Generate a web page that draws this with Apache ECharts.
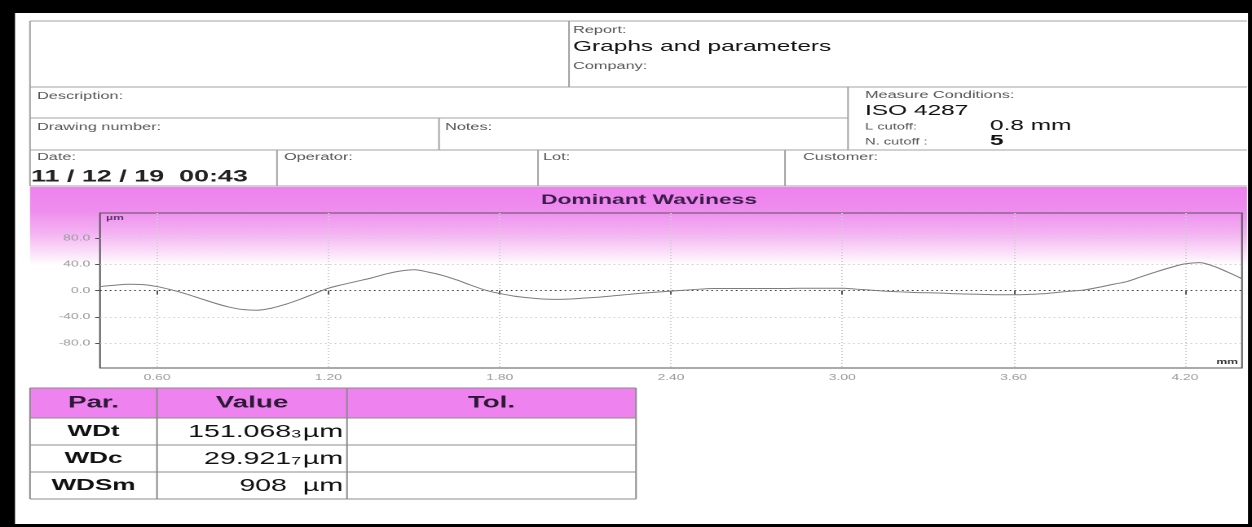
<!DOCTYPE html>
<html>
<head>
<meta charset="utf-8">
<script src="https://cdn.jsdelivr.net/npm/echarts@6/dist/echarts.min.js"></script>
<style>
html, body { margin: 0; padding: 0; background: #000; overflow: hidden; width: 1252px; height: 527px; }
/* the report sheet is laid out 768 px wide and printed stretched across 1252 px */
#report { width: 768px; height: 527px; transform: scaleX(1.630208); transform-origin: 0 0; }
</style>
</head>
<body>
<div id="report"></div>
<script>
// Trace position along the measured length (mm)
const POSITION_MM = [
  0.40, 0.45, 0.50, 0.55, 0.60, 0.65, 0.70, 0.75, 0.80, 0.85,
  0.90, 0.95, 1.00, 1.05, 1.10, 1.15, 1.20, 1.25, 1.30, 1.35,
  1.40, 1.45, 1.50, 1.55, 1.60, 1.65, 1.70, 1.75, 1.80, 1.85,
  1.90, 1.95, 2.00, 2.05, 2.10, 2.15, 2.20, 2.25, 2.30, 2.35,
  2.40, 2.45, 2.50, 2.55, 2.60, 2.65, 2.70, 2.75, 2.80, 2.85,
  2.90, 2.95, 3.00, 3.05, 3.10, 3.15, 3.20, 3.25, 3.30, 3.35,
  3.40, 3.45, 3.50, 3.55, 3.60, 3.65, 3.70, 3.75, 3.80, 3.85,
  3.90, 3.95, 4.00, 4.05, 4.10, 4.15, 4.20, 4.25, 4.30, 4.35,
  4.40
];
// Dominant waviness profile height (µm)
const WAVINESS_UM = [
  6, 8, 9.5, 9, 6, 1, -5, -12, -19, -25,
  -29, -30, -27, -21, -13.5, -5, 3.5, 9, 14, 19,
  25, 29.5, 31.5, 28, 23, 16, 8, 0.5, -4.5, -8.5,
  -11, -13, -13.5, -13, -11.5, -10, -8, -6, -4, -2.5,
  -1, 0.5, 2, 3, 3, 3, 3, 3, 3, 3.5,
  3.5, 3.5, 3.5, 2, 0.5, -1, -2, -3, -3.5, -4,
  -5, -5.5, -6, -6.5, -6.5, -6, -5, -3, -1, 1,
  5, 9.5, 14, 21.5, 28.5, 35, 40.5, 42.5, 37, 28,
  18
];
const X_TICKS = [0.6, 1.2, 1.8, 2.4, 3.0, 3.6, 4.2];
const Y_TICKS = [-80, -40, 0, 40, 80];

// Parameter table
const PARAM_HEADERS = ['Par.', 'Value', 'Tol.'];
const PARAM_NAMES = ['WDt', 'WDc', 'WDSm'];
const PARAM_VALUES = ['151.068', '29.921', '908'];
const PARAM_LAST_DIGIT = ['3', '7', ''];
const PARAM_UNIT = 'µm';

const STRETCH = 1252 / 768;
const X = px => px / STRETCH;            // sheet x (as printed) -> layout x
const FONT = '"Liberation Sans", Arial, sans-serif';
const RULE = '#a3a3a3';
const VIOLET = '#ee82ee';

const chart = echarts.init(document.getElementById('report'), null, { devicePixelRatio: 2 });

function rule(x1, y1, x2, y2, color) {
  return {
    type: 'line', z: 3, silent: true,
    shape: { x1: X(x1), y1: y1, x2: X(x2), y2: y2 },
    style: { stroke: color || RULE, lineWidth: 1 }
  };
}
function label(text, x, y, size, extra) {
  return {
    type: 'text', z: 5, silent: true, x: X(x), y: y,
    style: Object.assign({
      text: text, fontSize: size, fontFamily: FONT, fill: '#555',
      align: 'left', verticalAlign: 'middle'
    }, extra || {})
  };
}

const elements = [];

// white sheet inside the dark frame
elements.push({ type: 'rect', z: -20, silent: true,
  shape: { x: X(15), y: 13, width: X(1248 - 15), height: 511 }, style: { fill: '#fff' } });

// header block rules
[
  [30, 21, 1247, 21], [30, 87, 1247, 87], [30, 118, 848, 118],
  [30, 150, 1247, 150], [30, 186, 1247, 186],
  [30, 21, 30, 186], [569, 21, 569, 87], [848, 87, 848, 150],
  [439, 118, 439, 150], [277, 150, 277, 186], [538, 150, 538, 186],
  [785, 150, 785, 186]
].forEach(r => elements.push(rule(r[0], r[1], r[2], r[3])));

// header block texts
elements.push(
  label('Report:', 573, 30, 10),
  label('Graphs and parameters', 573, 47, 15, { fill: '#111' }),
  label('Company:', 573, 66, 10),
  label('Description:', 37, 96, 10),
  label('Drawing number:', 37, 127, 10),
  label('Notes:', 445, 127, 10),
  label('Measure Conditions:', 865, 95, 10),
  label('ISO 4287', 865, 111, 15, { fill: '#111' }),
  label('L cutoff:', 865, 127, 9),
  label('0.8 mm', 990, 126, 15, { fill: '#111' }),
  label('N. cutoff :', 865, 142, 9),
  label('5', 990, 141, 15, { fill: '#111', fontWeight: 'bold' }),
  label('Date:', 37, 157, 10),
  label('11 / 12 / 19  00:43', 31, 177, 16.5, { fill: '#222', fontWeight: 'bold' }),
  label('Operator:', 284, 157, 10),
  label('Lot:', 543, 157, 10),
  label('Customer:', 803, 157, 10)
);

// graph panel: violet band fading to white
elements.push({ type: 'rect', z: -10, silent: true,
  shape: { x: X(30), y: 187, width: X(1247 - 30), height: 78 },
  style: { fill: new echarts.graphic.LinearGradient(0, 0, 0, 1, [
    { offset: 0, color: VIOLET }, { offset: 0.3, color: '#ef8def' },
    { offset: 0.6, color: '#f4b4f2' }, { offset: 0.85, color: '#fbe2fa' },
    { offset: 1, color: '#ffffff' }
  ]) } });
elements.push(
  label('Dominant Waviness', 649, 200, 14, { fill: '#3a1d4a', fontWeight: 'bold', align: 'center' }),
  label('µm', 106, 218, 7.5, { fill: '#5a3a6a', fontWeight: 'bold' }),
  label('mm', 1238, 362, 7.5, { fill: '#333', fontWeight: 'bold', align: 'right' })
);

// parameter table
const T_LEFT = 30, T_COLS = [157, 347], T_RIGHT = 636;
const T_ROWS = [388, 418, 445, 472, 499];
elements.push({ type: 'rect', z: 2, silent: true,
  shape: { x: X(T_LEFT), y: T_ROWS[0], width: X(T_RIGHT - T_LEFT), height: T_ROWS[1] - T_ROWS[0] },
  style: { fill: VIOLET } });
T_ROWS.forEach(y => elements.push(rule(T_LEFT, y, T_RIGHT, y, '#8c8c8c')));
const colEdges = [T_LEFT].concat(T_COLS, [T_RIGHT]);
colEdges.forEach(x =>
  elements.push(rule(x, T_ROWS[0], x, T_ROWS[T_ROWS.length - 1], '#8c8c8c')));
PARAM_HEADERS.forEach((h, i) => {
  const cx = (colEdges[i] + colEdges[i + 1]) / 2;
  elements.push(label(h, cx, (T_ROWS[0] + T_ROWS[1]) / 2, 17,
    { fill: '#2b1a35', fontWeight: 'bold', align: 'center' }));
});
PARAM_NAMES.forEach((name, i) => {
  const cy = (T_ROWS[i + 1] + T_ROWS[i + 2]) / 2;
  elements.push(label(name, (colEdges[0] + colEdges[1]) / 2, cy, 16,
    { fill: '#111', fontWeight: 'bold', align: 'center' }));
  const digit = PARAM_LAST_DIGIT[i];
  const text = '{n|' + PARAM_VALUES[i] + '}' + (digit ? '{s|' + digit + '}' : '{n|  }') + '{n|' + PARAM_UNIT + '}';
  elements.push(label(text, T_COLS[1] - 4, cy, 17.5, {
    fill: '#111', align: 'right',
    rich: {
      n: { fontSize: 17.5, fontFamily: FONT, fill: '#111', lineHeight: 19, verticalAlign: 'bottom' },
      s: { fontSize: 11, fontFamily: FONT, fill: '#111', lineHeight: 19, verticalAlign: 'bottom', padding: [0, 1, 1, 0] }
    }
  }));
});

const axisText = { color: '#9a9a9a', fontSize: 8.5, fontFamily: FONT };
const dotted = [1, 2];

chart.setOption({
  backgroundColor: '#000',
  animation: false,
  grid: {
    left: X(100), right: 768 - X(1242), top: 213, height: 155,
    show: true, borderColor: '#555', borderWidth: 1, backgroundColor: 'transparent'
  },
  xAxis: {
    type: 'value', min: 0.4, max: 4.4,
    axisLine: { show: false },
    axisTick: { show: true, customValues: X_TICKS, length: 4, lineStyle: { color: '#555' } },
    axisLabel: Object.assign({ customValues: X_TICKS, margin: 5, formatter: v => v.toFixed(2) }, axisText),
    splitLine: { show: true, lineStyle: { color: '#cfcfcf', type: dotted, width: 1 } }
  },
  yAxis: {
    type: 'value', min: -118, max: 118,
    axisLine: { show: false },
    axisTick: { show: true, customValues: Y_TICKS, length: 3, lineStyle: { color: '#555' } },
    axisLabel: Object.assign({ customValues: Y_TICKS, margin: 6, formatter: v => v.toFixed(1) }, axisText),
    splitLine: { show: true, lineStyle: {
      color: Y_TICKS.map(v => v === 0 ? '#3a3a3a' : '#cfcfcf'), type: dotted, width: 1 } }
  },
  series: [{
    name: 'Dominant Waviness',
    type: 'line',
    data: POSITION_MM.map((x, i) => [x, WAVINESS_UM[i]]),
    smooth: 0.35,
    symbol: 'none',
    lineStyle: { color: '#7c7c7c', width: 1 },
    z: 4
  }],
  graphic: { elements: elements }
});
</script>
</body>
</html>
